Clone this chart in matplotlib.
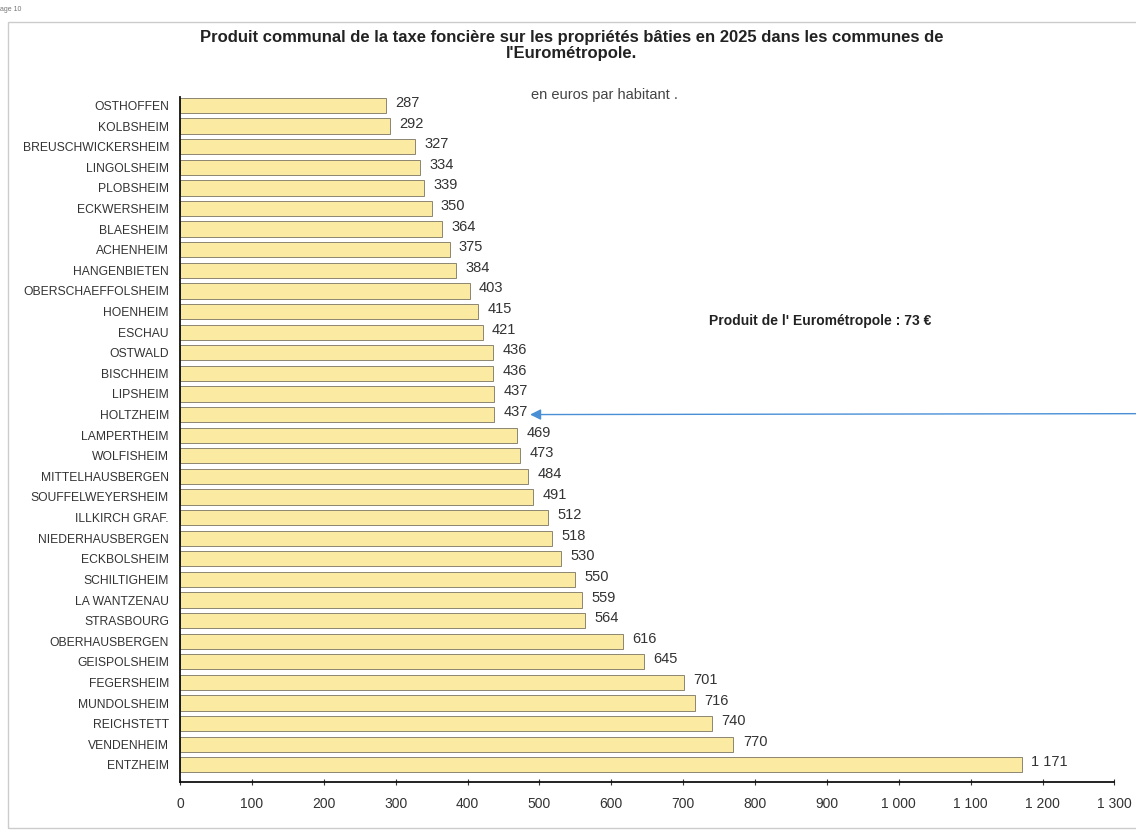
import matplotlib
matplotlib.use("Agg")
import matplotlib.pyplot as plt
from matplotlib.patches import Rectangle

communes = [
    "OSTHOFFEN", "KOLBSHEIM", "BREUSCHWICKERSHEIM", "LINGOLSHEIM", "PLOBSHEIM",
    "ECKWERSHEIM", "BLAESHEIM", "ACHENHEIM", "HANGENBIETEN", "OBERSCHAEFFOLSHEIM",
    "HOENHEIM", "ESCHAU", "OSTWALD", "BISCHHEIM", "LIPSHEIM", "HOLTZHEIM",
    "LAMPERTHEIM", "WOLFISHEIM", "MITTELHAUSBERGEN", "SOUFFELWEYERSHEIM",
    "ILLKIRCH GRAF.", "NIEDERHAUSBERGEN", "ECKBOLSHEIM", "SCHILTIGHEIM",
    "LA WANTZENAU", "STRASBOURG", "OBERHAUSBERGEN", "GEISPOLSHEIM", "FEGERSHEIM",
    "MUNDOLSHEIM", "REICHSTETT", "VENDENHEIM", "ENTZHEIM",
]
produit = [
    287, 292, 327, 334, 339, 350, 364, 375, 384, 403, 415, 421, 436, 436, 437, 437,
    469, 473, 484, 491, 512, 518, 530, 550, 559, 564, 616, 645, 701, 716, 740, 770,
    1171,
]
x_ticks = list(range(0, 1301, 100))
produit_metropole = 73


def fmt(v):
    return f"{v:,}".replace(",", " ")


plt.rcParams["font.family"] = ["Liberation Sans", "DejaVu Sans"]

fig = plt.figure(figsize=(11.36, 8.34), dpi=100)
fig.patch.set_facecolor("white")

# page frame
fig.patches.append(Rectangle((8 / 1136, 6 / 834), 1140 / 1136, 806 / 834,
                             transform=fig.transFigure, fill=False,
                             edgecolor="#cccccc", linewidth=1.0))
fig.text(0.0, 0.993, "age 10", fontsize=5, color="#777777", va="top", ha="left")

ax = fig.add_axes([0.1585, 0.0624, 0.8225, 0.821])
y = list(range(len(communes)))
ax.barh(y, produit, height=0.74, color="#fbeba2", edgecolor="#7a7460",
        linewidth=0.6, zorder=2)

for yi, v in zip(y, produit):
    ax.text(v + 13, yi - 0.12, fmt(v), fontsize=10.5, color="#333333",
            va="center", ha="left")

ax.set_xlim(0, 1300)
ax.set_ylim(32.83, -0.4)
ax.set_yticks(y)
ax.set_yticklabels(communes, fontsize=8.7, color="#333333")
ax.tick_params(axis="y", length=0, pad=8)
ax.set_xticks(x_ticks)
ax.set_xticklabels([fmt(t) for t in x_ticks], fontsize=10, color="#333333")
ax.tick_params(axis="x", direction="inout", length=4, width=0.8, pad=9,
               color="#333333")
for s in ("top", "right"):
    ax.spines[s].set_visible(False)
for s in ("left", "bottom"):
    ax.spines[s].set_color("#111111")
    ax.spines[s].set_linewidth(1.3)

fig.text(0.503, 0.964, "Produit communal de la taxe foncière sur les propriétés bâties en 2025 dans les communes de\nl'Eurométropole.",
         ha="center", va="top", fontsize=12, fontweight="bold",
         color="#222222", linespacing=1.12)
fig.text(0.532, 0.886, "en euros par habitant .", ha="center", va="center",
         fontsize=10.5, color="#444444")
fig.text(0.722, 0.615, f"Produit de l' Eurométropole : {produit_metropole} €",
         ha="center", va="center", fontsize=10, fontweight="bold",
         color="#222222")

# arrow pointing at HOLTZHEIM
ax.annotate("", xy=(487, 15), xycoords="data",
            xytext=(1.0, 0.504), textcoords="figure fraction",
            arrowprops=dict(arrowstyle="-|>", color="#4a8fd6", lw=1.0,
                            mutation_scale=16, shrinkA=0, shrinkB=0),
            annotation_clip=False)

fig.savefig("out.png", dpi=100, facecolor="white")
